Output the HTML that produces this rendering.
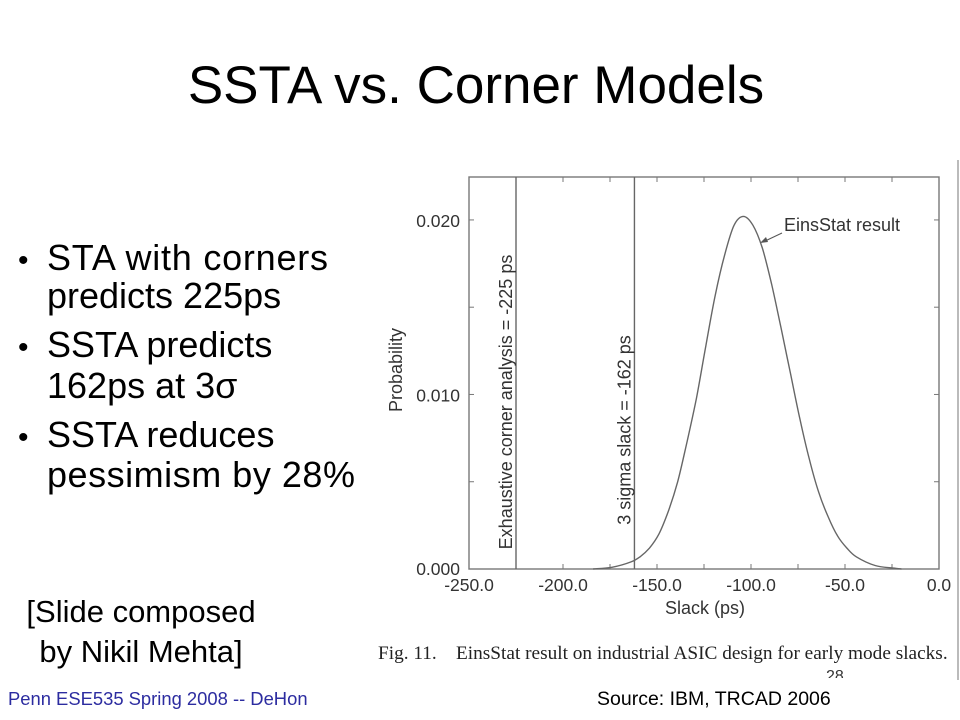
<!DOCTYPE html>
<html><head><meta charset="utf-8"><style>
body{margin:0;width:960px;height:720px;background:#fff;overflow:hidden;position:relative;font-family:"Liberation Sans",Arial,sans-serif}
.t{position:absolute;white-space:nowrap}
</style></head><body>
<div class="t" style="left:0;width:952px;text-align:center;top:55px;font-size:53px">SSTA vs. Corner Models</div>
<svg width="380" height="300" style="position:absolute;left:0;top:220px" font-family="Liberation Sans, sans-serif" font-size="36">
<text x="18" y="50" font-size="30">•</text><text x="47" y="50" textLength="281">STA with corners</text><text x="47" y="88">predicts 225ps</text>
<text x="18" y="137" font-size="30">•</text><text x="47" y="137">SSTA predicts</text><text x="47" y="178">162ps at 3σ</text>
<text x="18" y="227" font-size="30">•</text><text x="47" y="227">SSTA reduces</text><text x="47" y="267" textLength="308">pessimism by 28%</text>
</svg>
<div class="t" style="left:10px;width:262px;text-align:center;top:592px;font-size:31px;line-height:40px">[Slide composed<br>by Nikil Mehta]</div>
<div class="t" style="left:8px;top:688px;font-size:18.4px;color:#2c2ca0">Penn ESE535 Spring 2008 -- DeHon</div>
<div class="t" style="left:597px;top:688px;font-size:19.5px">Source: IBM, TRCAD 2006</div>
<div style="position:absolute;left:826px;top:670px;width:30px;height:8px;overflow:hidden"><div style="font-size:16px;color:#333;margin-top:-2px">28</div></div>
<div style="position:absolute;left:957px;top:160px;width:2px;height:520px;background:#bbb"></div>
<svg id="chart" width="960" height="720" style="position:absolute;left:0;top:0"></svg>
<div class="t" style="left:378px;top:643px;font-family:'Liberation Serif',serif;font-size:19.3px;color:#222">Fig. 11.&nbsp;&nbsp;&nbsp; EinsStat result on industrial ASIC design for early mode slacks.</div>
<script>
const xTicks=[-250,-200,-150,-100,-50,0];
const xTickLabels=["-250.0","-200.0","-150.0","-100.0","-50.0","0.0"];
const yTicks=[0,0.010,0.020];
const yTickLabels=["0.000","0.010","0.020"];
const slackValues=[-184,-174,-164,-159,-154,-149,-144,-139,-134,-129,-124,-119,-114,-109,-104,-99,-94,-89,-84,-79,-74,-69,-64,-59,-54,-49,-44,-34,-24,-20];
const probValues=[0,0.0001,0.0004,0.0007,0.0012,0.0020,0.0033,0.0050,0.0073,0.0098,0.0128,0.0157,0.0180,0.0197,0.0202,0.0197,0.0184,0.0163,0.0138,0.0112,0.0086,0.0063,0.0044,0.0030,0.0019,0.0012,0.0007,0.0002,0.00005,0];
const markerValues=[-225,-162];
const markerLabels=["Exhaustive corner analysis = -225 ps","3 sigma slack = -162 ps"];
const L=469,R=939,T=177,B=569,X0=-250,X1=0,Y0=0,Ymax=0.02246;
const sx=v=>L+(v-X0)/(X1-X0)*(R-L);
const sy=v=>B-(v-Y0)/(Ymax-Y0)*(B-T);
const svg=document.getElementById('chart');const NS='http://www.w3.org/2000/svg';
function mk(tag,attrs,txt){const e=document.createElementNS(NS,tag);for(const k in attrs)e.setAttribute(k,attrs[k]);if(txt!=null)e.textContent=txt;svg.appendChild(e);return e;}
const F='Liberation Sans, sans-serif';
let e=mk('rect',{x:L,y:T,width:R-L,height:B-T,fill:'none',stroke:'#777','stroke-width':1.4});


for(let v=-250;v<=0;v+=25){const x=sx(v);mk('line',{x1:x,y1:B,x2:x,y2:B-5,stroke:'#777'});mk('line',{x1:x,y1:T,x2:x,y2:T+5,stroke:'#777'});}
for(let v=0;v<=0.0201;v+=0.005){const y=sy(v);mk('line',{x1:L,y1:y,x2:L+5,y2:y,stroke:'#777'});mk('line',{x1:R,y1:y,x2:R-5,y2:y,stroke:'#777'});}
xTicks.forEach((v,i)=>{e=mk('text',{x:sx(v),y:B+22,'text-anchor':'middle','font-size':17.5,fill:'#333','font-family':F},xTickLabels[i]);

});
yTicks.forEach((v,i)=>{e=mk('text',{x:L-9,y:sy(v)+(i==0?6:7),'text-anchor':'end','font-size':17.5,fill:'#333','font-family':F},yTickLabels[i]);

});
e=mk('text',{x:705,y:614,'text-anchor':'middle','font-size':18,fill:'#333','font-family':F},'Slack (ps)');


e=mk('text',{x:0,y:0,'text-anchor':'middle','font-size':18,fill:'#333','font-family':F,transform:'translate(402,370) rotate(-90)'},'Probability');


markerValues.forEach((v,i)=>{const x=sx(v);e=mk('line',{x1:x,y1:T,x2:x,y2:B,stroke:'#666','stroke-width':1.4});


const cy=i==0?402:430;
e=mk('text',{x:0,y:0,'text-anchor':'middle','font-size':18,fill:'#333','font-family':F,transform:`translate(${x-4},${cy}) rotate(-90)`},markerLabels[i]);

});
const pts=slackValues.map((v,i)=>[sx(v),sy(probValues[i])]);
let d='M'+pts[0][0].toFixed(1)+','+pts[0][1].toFixed(1);
for(let i=0;i<pts.length-1;i++){const p0=pts[Math.max(i-1,0)],p1=pts[i],p2=pts[i+1],p3=pts[Math.min(i+2,pts.length-1)];
d+='C'+(p1[0]+(p2[0]-p0[0])/6).toFixed(1)+','+(p1[1]+(p2[1]-p0[1])/6).toFixed(1)+' '+(p2[0]-(p3[0]-p1[0])/6).toFixed(1)+','+(p2[1]-(p3[1]-p1[1])/6).toFixed(1)+' '+p2[0].toFixed(1)+','+p2[1].toFixed(1);}
e=mk('path',{d:d,fill:'none',stroke:'#666','stroke-width':1.4,'stroke-linejoin':'round'});


e=mk('text',{x:784,y:231,'font-size':18,fill:'#333','font-family':F},'EinsStat result');


mk('line',{x1:782,y1:233,x2:763,y2:242,stroke:'#555'});
mk('path',{d:'M760,243 L766,237 L768,242 Z',fill:'#555'});
</script>
</body></html>
